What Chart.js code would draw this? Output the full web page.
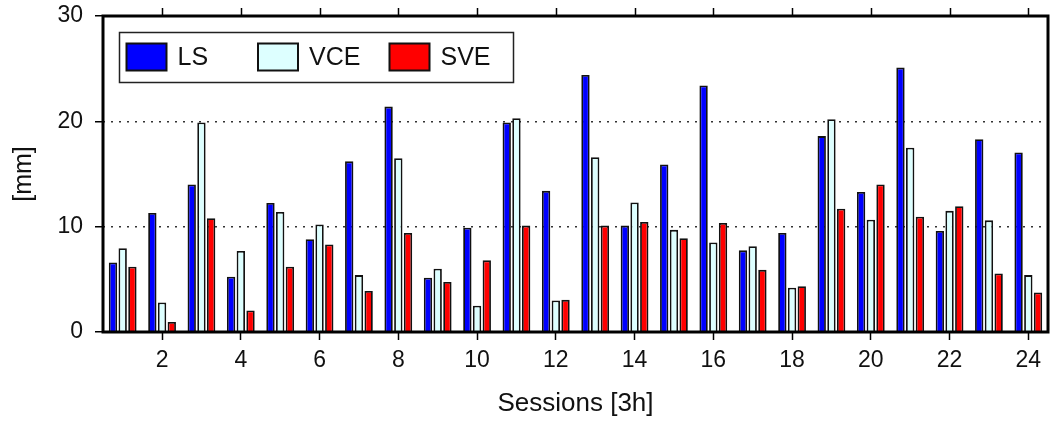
<!DOCTYPE html>
<html>
<head>
<meta charset="utf-8">
<script src="https://cdn.jsdelivr.net/npm/chart.js@4"></script>
<style>
  html, body { margin: 0; padding: 0; background: #fff; }
  #wrap { width: 1051px; height: 423px; }
</style>
</head>
<body>
<div id="wrap"><canvas id="c"></canvas></div>
<script>
// sessions 1..24
const sessions = Array.from({ length: 24 }, (_, i) => String(i + 1));

// values, in mm
const ls = [6.6, 11.3, 14.0, 5.25, 12.25, 8.8, 16.2, 21.4, 5.15, 9.9, 19.9, 13.4,
  24.4, 10.1, 15.9, 23.4, 7.75, 9.4, 18.6, 13.3, 25.1, 9.6, 18.3, 17.05];
const vce = [7.95, 2.8, 19.9, 7.7, 11.4, 10.2, 5.4, 16.5, 6.0, 2.5, 20.3, 3.0,
  16.6, 12.3, 9.7, 8.5, 8.15, 4.2, 20.2, 10.65, 17.5, 11.5, 10.6, 5.4];
const sve = [6.2, 0.95, 10.8, 2.05, 6.2, 8.3, 3.9, 9.4, 4.75, 6.8, 10.1, 3.05,
  10.1, 10.45, 8.9, 10.35, 5.9, 4.35, 11.7, 14.0, 10.95, 11.95, 5.55, 3.75];

const seriesNames = ["LS", "VCE", "SVE"];
const seriesColors = ["#0000ff", "#ddffff", "#ff0000"];

const FONT = "'Liberation Sans', Arial, sans-serif";

// frame, top ticks and the legend box
const framePlugin = {
  id: "frame",
  afterDraw(chart) {
    const ctx = chart.ctx;
    const a = chart.chartArea;
    const xs = chart.scales.x;
    ctx.save();

    // ticks on top edge, even sessions only
    ctx.strokeStyle = "#000";
    ctx.lineWidth = 1.5;
    xs.ticks.forEach((t, i) => {
      if (i % 2 === 1) {
        const px = Math.round(xs.getPixelForTick(i)) + 0.5;
        ctx.beginPath();
        ctx.moveTo(px, a.top);
        ctx.lineTo(px, a.top - 8);
        ctx.stroke();
      }
    });

    // thick frame
    ctx.lineWidth = 3;
    ctx.strokeRect(a.left, a.top, a.right - a.left, a.bottom - a.top);

    // legend
    const bx = a.left + 16.5, by = a.top + 16.5;
    ctx.fillStyle = "#fff";
    ctx.fillRect(bx, by, 394, 50);
    ctx.lineWidth = 1.5;
    ctx.strokeStyle = "#222";
    ctx.strokeRect(bx, by, 394, 50);
    ctx.font = "25px " + FONT;
    ctx.textBaseline = "middle";
    chart.data.datasets.forEach((ds, i) => {
      const sx = bx + 7 + i * 131.5;
      const sy = by + 11;
      ctx.fillStyle = ds.backgroundColor;
      ctx.fillRect(sx, sy, 40, 27);
      ctx.lineWidth = 2;
      ctx.strokeStyle = "#111";
      ctx.strokeRect(sx, sy, 40, 27);
      ctx.fillStyle = "#111";
      ctx.fillText(ds.label, sx + 51, sy + 15);
    });
    ctx.restore();
  },
};

new Chart(document.getElementById("c"), {
  type: "bar",
  data: {
    labels: sessions,
    datasets: [ls, vce, sve].map((vals, i) => ({
      label: seriesNames[i],
      data: vals,
      backgroundColor: seriesColors[i],
      borderColor: "#111",
      borderWidth: 1.8,
      borderSkipped: "start",
      barPercentage: 0.86,
      categoryPercentage: 0.74,
    })),
  },
  options: {
    responsive: true,
    maintainAspectRatio: false,
    animation: false,
    layout: { padding: { top: 16, right: 3, left: 0, bottom: 0 } },
    plugins: {
      legend: { display: false },
      tooltip: { enabled: false },
    },
    scales: {
      x: {
        afterFit: (s) => { s.height = 91; s.paddingLeft = 0; s.paddingRight = 0; },
        grid: {
          offset: false,
          drawOnChartArea: false,
          tickLength: 8,
          tickWidth: 1.5,
          tickColor: (c) => (c.index % 2 === 1 ? "#000" : "rgba(0,0,0,0)"),
        },
        border: { display: false },
        ticks: {
          autoSkip: false,
          maxRotation: 0,
          padding: 7,
          color: "#111",
          font: { family: FONT, size: 23 },
          callback: (v, i) => (i % 2 === 1 ? sessions[i] : ""),
        },
        title: {
          display: true,
          text: "Sessions [3h]",
          color: "#111",
          font: { family: FONT, size: 26 },
          padding: { top: 6 },
        },
      },
      y: {
        min: 0,
        max: 30,
        afterFit: (s) => { s.width = 103; s.paddingTop = 0; s.paddingBottom = 0; },
        grid: {
          color: (c) => (c.tick && (c.tick.value === 10 || c.tick.value === 20) ? "#333" : "rgba(0,0,0,0)"),
          lineWidth: 1.5,
          tickColor: "#000",
          tickLength: 8,
          tickWidth: 1.5,
          tickBorderDash: [],
        },
        border: { display: false, dash: [2, 6] },
        ticks: {
          stepSize: 10,
          padding: 12,
          color: "#111",
          font: { family: FONT, size: 23 },
        },
        title: {
          display: true,
          text: "[mm]",
          color: "#111",
          font: { family: FONT, size: 25 },
          padding: { top: 9, bottom: 0 },
        },
      },
    },
  },
  plugins: [framePlugin],
});
</script>
</body>
</html>
